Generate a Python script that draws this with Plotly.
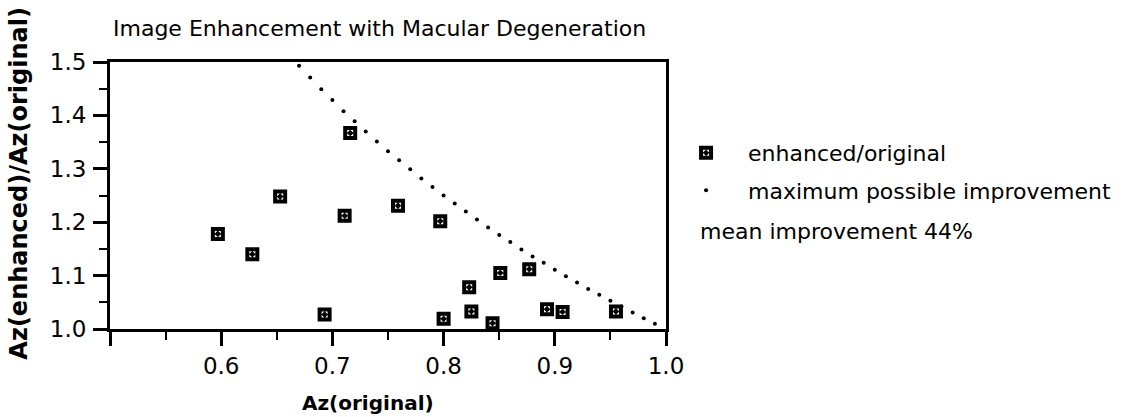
import plotly.graph_objects as go

# ---- data ----
az_original = [0.597, 0.628, 0.653, 0.693, 0.711, 0.716, 0.759, 0.797, 0.800,
               0.823, 0.825, 0.844, 0.851, 0.877, 0.893, 0.907, 0.955]
az_ratio = [1.178, 1.140, 1.248, 1.027, 1.212, 1.367, 1.231, 1.202, 1.019,
            1.078, 1.033, 1.011, 1.105, 1.112, 1.037, 1.032, 1.033]

max_x = [0.67, 0.68, 0.69, 0.70, 0.71, 0.72, 0.73, 0.74, 0.75, 0.76, 0.77,
         0.78, 0.79, 0.80, 0.81, 0.82, 0.83, 0.84, 0.85, 0.86, 0.87, 0.88,
         0.89, 0.90, 0.91, 0.92, 0.93, 0.94, 0.95, 0.96, 0.97, 0.98, 0.99]
max_y = [1.493, 1.471, 1.449, 1.429, 1.408, 1.389, 1.370, 1.351, 1.333, 1.316,
         1.299, 1.282, 1.266, 1.250, 1.235, 1.220, 1.205, 1.190, 1.176, 1.163,
         1.149, 1.136, 1.124, 1.111, 1.099, 1.087, 1.075, 1.064, 1.053, 1.042,
         1.031, 1.020, 1.010]

x_tick_vals = [0.5, 0.6, 0.7, 0.8, 0.9, 1.0]
x_tick_text = ["", "0.6", "0.7", "0.8", "0.9", "1.0"]
y_tick_vals = [1.0, 1.1, 1.2, 1.3, 1.4, 1.5]
y_tick_text = ["1.0", "1.1", "1.2", "1.3", "1.4", "1.5"]

title_text = "Image Enhancement with Macular Degeneration"
x_title = "Az(original)"
y_title = "Az(enhanced)/Az(original)"
series_names = ["enhanced/original", "maximum possible improvement"]
note_text = "mean improvement 44%"

FONT = "DejaVu Sans, Liberation Sans, Arial, sans-serif"

fig = go.Figure()
fig.add_trace(go.Scatter(
    x=az_original, y=az_ratio, mode="markers", name=series_names[0],
    legendgroup="a",
    marker=dict(symbol="square-dot", size=10, color="white",
                line=dict(color="black", width=4)),
    cliponaxis=False,
))
fig.add_trace(go.Scatter(
    x=max_x, y=max_y, mode="markers", name=series_names[1],
    legendgroup="b",
    marker=dict(symbol="circle", size=4, color="black"),
    cliponaxis=False,
))

axis_common = dict(
    showline=True, linecolor="black", linewidth=3, mirror=True,
    showgrid=False, zeroline=False,
    ticks="outside", ticklen=14, tickwidth=3, tickcolor="black",
    tickfont=dict(family=FONT, size=23, color="black"),
)

fig.update_xaxes(
    range=[0.5, 1.0], tickmode="array", tickvals=x_tick_vals,
    ticktext=x_tick_text, ticklabelstandoff=0,
    minor=dict(dtick=0.05, tick0=0.5, ticks="outside", ticklen=8,
               tickwidth=2, tickcolor="black"),
    **axis_common,
)
fig.update_yaxes(
    range=[1.0, 1.5], tickmode="array", tickvals=y_tick_vals,
    ticktext=y_tick_text, ticklabelstandoff=2,
    minor=dict(dtick=0.05, tick0=1.0, ticks="outside", ticklen=8,
               tickwidth=2, tickcolor="black"),
    **axis_common,
)

fig.add_annotation(text=title_text, xref="paper", yref="paper",
                   x=0.0017, y=1.127, xanchor="left", yanchor="middle",
                   showarrow=False,
                   font=dict(family=FONT, size=22, color="black"))
fig.add_annotation(text="<b>" + x_title + "</b>", xref="paper", yref="paper",
                   x=0.4633, y=-0.2772, xanchor="center", yanchor="middle",
                   showarrow=False,
                   font=dict(family=FONT, size=20, color="black"))
fig.add_annotation(text="<b>" + y_title + "</b>", xref="paper", yref="paper",
                   x=-0.1643, y=0.5468, xanchor="center", yanchor="middle",
                   textangle=-90, showarrow=False,
                   font=dict(family=FONT, size=24, color="black"))
fig.add_annotation(text=note_text, xref="paper", yref="paper",
                   x=1.0577, y=0.3633, xanchor="left", yanchor="middle",
                   showarrow=False,
                   font=dict(family=FONT, size=22, color="black"))

fig.update_layout(
    width=1128, height=417,
    margin=dict(l=110, r=446, t=62, b=88),
    paper_bgcolor="white", plot_bgcolor="white",
    showlegend=True,
    legend=dict(x=0.9965, y=0.738, xanchor="left", yanchor="top",
                itemwidth=74, tracegroupgap=6, traceorder="grouped",
                bgcolor="rgba(0,0,0,0)",
                font=dict(family=FONT, size=22, color="black")),
)

fig.write_html(
    "out.html",
    config={"displayModeBar": False},
    post_script="document.body.style.margin='0';"
                "document.body.style.overflow='hidden';",
)
